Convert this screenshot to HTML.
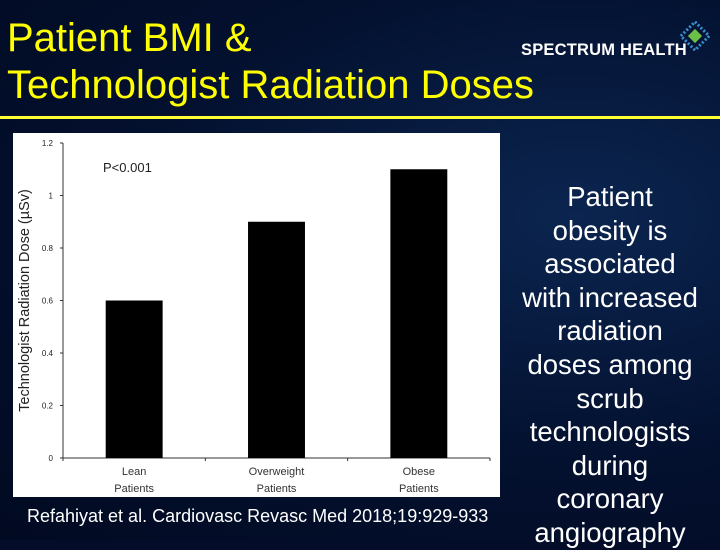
<!DOCTYPE html>
<html><head><meta charset="utf-8"><style>
body{margin:0;width:720px;height:540px;overflow:hidden;background:#030d2a;font-family:"Liberation Sans",sans-serif;position:relative}
.abs{position:absolute}
#title{left:7px;top:15px;color:#ffff00;font-size:40px;line-height:47px;margin:0;font-weight:normal}
#rule{left:0;top:116px;width:720px;height:3px;background:#ffff33}
#logo{left:521px;top:41px;color:#fff;font-weight:bold;font-size:16.5px;letter-spacing:0.2px}
#panel{left:13px;top:133px;width:487px;height:364px;background:#fff}
#cite{left:27px;top:506px;color:#fff;font-size:18px}
#side{left:510px;top:180px;width:200px;text-align:center;color:#fff;font-size:27.5px;line-height:33.6px}
</style></head><body>
<div class="abs" style="left:0;top:0;width:720px;height:540px;background:radial-gradient(ellipse at 80% 40%,#0b2550 0%,#03102e 55%,#020a22 100%)"></div>
<h1 class="abs" id="title">Patient BMI &amp;<br>Technologist Radiation Doses</h1>
<div class="abs" id="rule"></div>
<div class="abs" id="logo">SPECTRUM HEALTH</div>
<svg class="abs" style="left:680px;top:16px" width="30" height="40"><g transform="rotate(45 15 20)"><rect x="5" y="10" width="20" height="20" fill="none" stroke="#3a8fd0" stroke-width="3" stroke-dasharray="2 2"/><rect x="10" y="15" width="10" height="10" fill="#6cc04a"/></g></svg>
<div class="abs" id="panel">
<svg id="chart" width="487" height="364"></svg>
</div>
<div class="abs" id="cite">Refahiyat et al. Cardiovasc Revasc Med 2018;19:929-933</div>
<div class="abs" id="side">Patient<br>obesity is<br>associated<br>with increased<br>radiation<br>doses among<br>scrub<br>technologists<br>during<br>coronary<br>angiography</div>
<script>
const categories=["Lean Patients","Overweight Patients","Obese Patients"];
const values=[0.6,0.9,1.1];
const yTicks=[0,0.2,0.4,0.6,0.8,1,1.2];
const tickLabels=["0","0.2","0.4","0.6","0.8","1","1.2"];
const svg=document.getElementById('chart');
const NS='http://www.w3.org/2000/svg';
const ox=13,oy=133;
const x0=63-ox,x1=490-ox,y0=458-oy,yTop=143-oy,yMax=1.2;
const y=v=>y0-(v/yMax)*(y0-yTop);
const band=(x1-x0)/categories.length;
const xc=i=>x0+band*(i+0.5);
function mk(t,a,txt){const e=document.createElementNS(NS,t);for(const k in a)e.setAttribute(k,a[k]);if(txt!=null)e.textContent=txt;svg.appendChild(e);return e;}
let e=mk('line',{x1:x0,y1:y0,x2:x0,y2:yTop,stroke:'#333','stroke-width':1});


e=mk('line',{x1:x0,y1:y0,x2:x1,y2:y0,stroke:'#333','stroke-width':1});


yTicks.forEach((v,i)=>{
 mk('line',{x1:x0-3,x2:x0,y1:y(v),y2:y(v),stroke:'#333'});
 const t=mk('text',{x:x0-10,y:y(v)+3,'text-anchor':'end','font-size':8,fill:'#222'},tickLabels[i]);
 
 
});
for(let i=0;i<=categories.length;i++)mk('line',{x1:x0+band*i,x2:x0+band*i,y1:y0,y2:y0+3,stroke:'#333'});
const bw=band*0.4;
categories.forEach((c,i)=>{
 const r=mk('rect',{x:xc(i)-bw/2,y:y(values[i]),width:bw,height:y0-y(values[i]),fill:'#000'});
 
 
 const p=c.split(' ');
 const t1=mk('text',{x:xc(i),y:y0+17,'text-anchor':'middle','font-size':11,fill:'#333'},p[0]);
 
 
 const t2=mk('text',{x:xc(i),y:y0+34,'text-anchor':'middle','font-size':11,fill:'#333'},p[1]);
 
 
});
e=mk('text',{x:0,y:0,transform:'translate(16,'+(y0+yTop)/2+') rotate(-90)','text-anchor':'middle','font-size':14.5,fill:'#222'},'Technologist Radiation Dose (µSv)');


e=mk('text',{x:90,y:39,'font-size':13,fill:'#222'},'P<0.001');


</script>
</body></html>
